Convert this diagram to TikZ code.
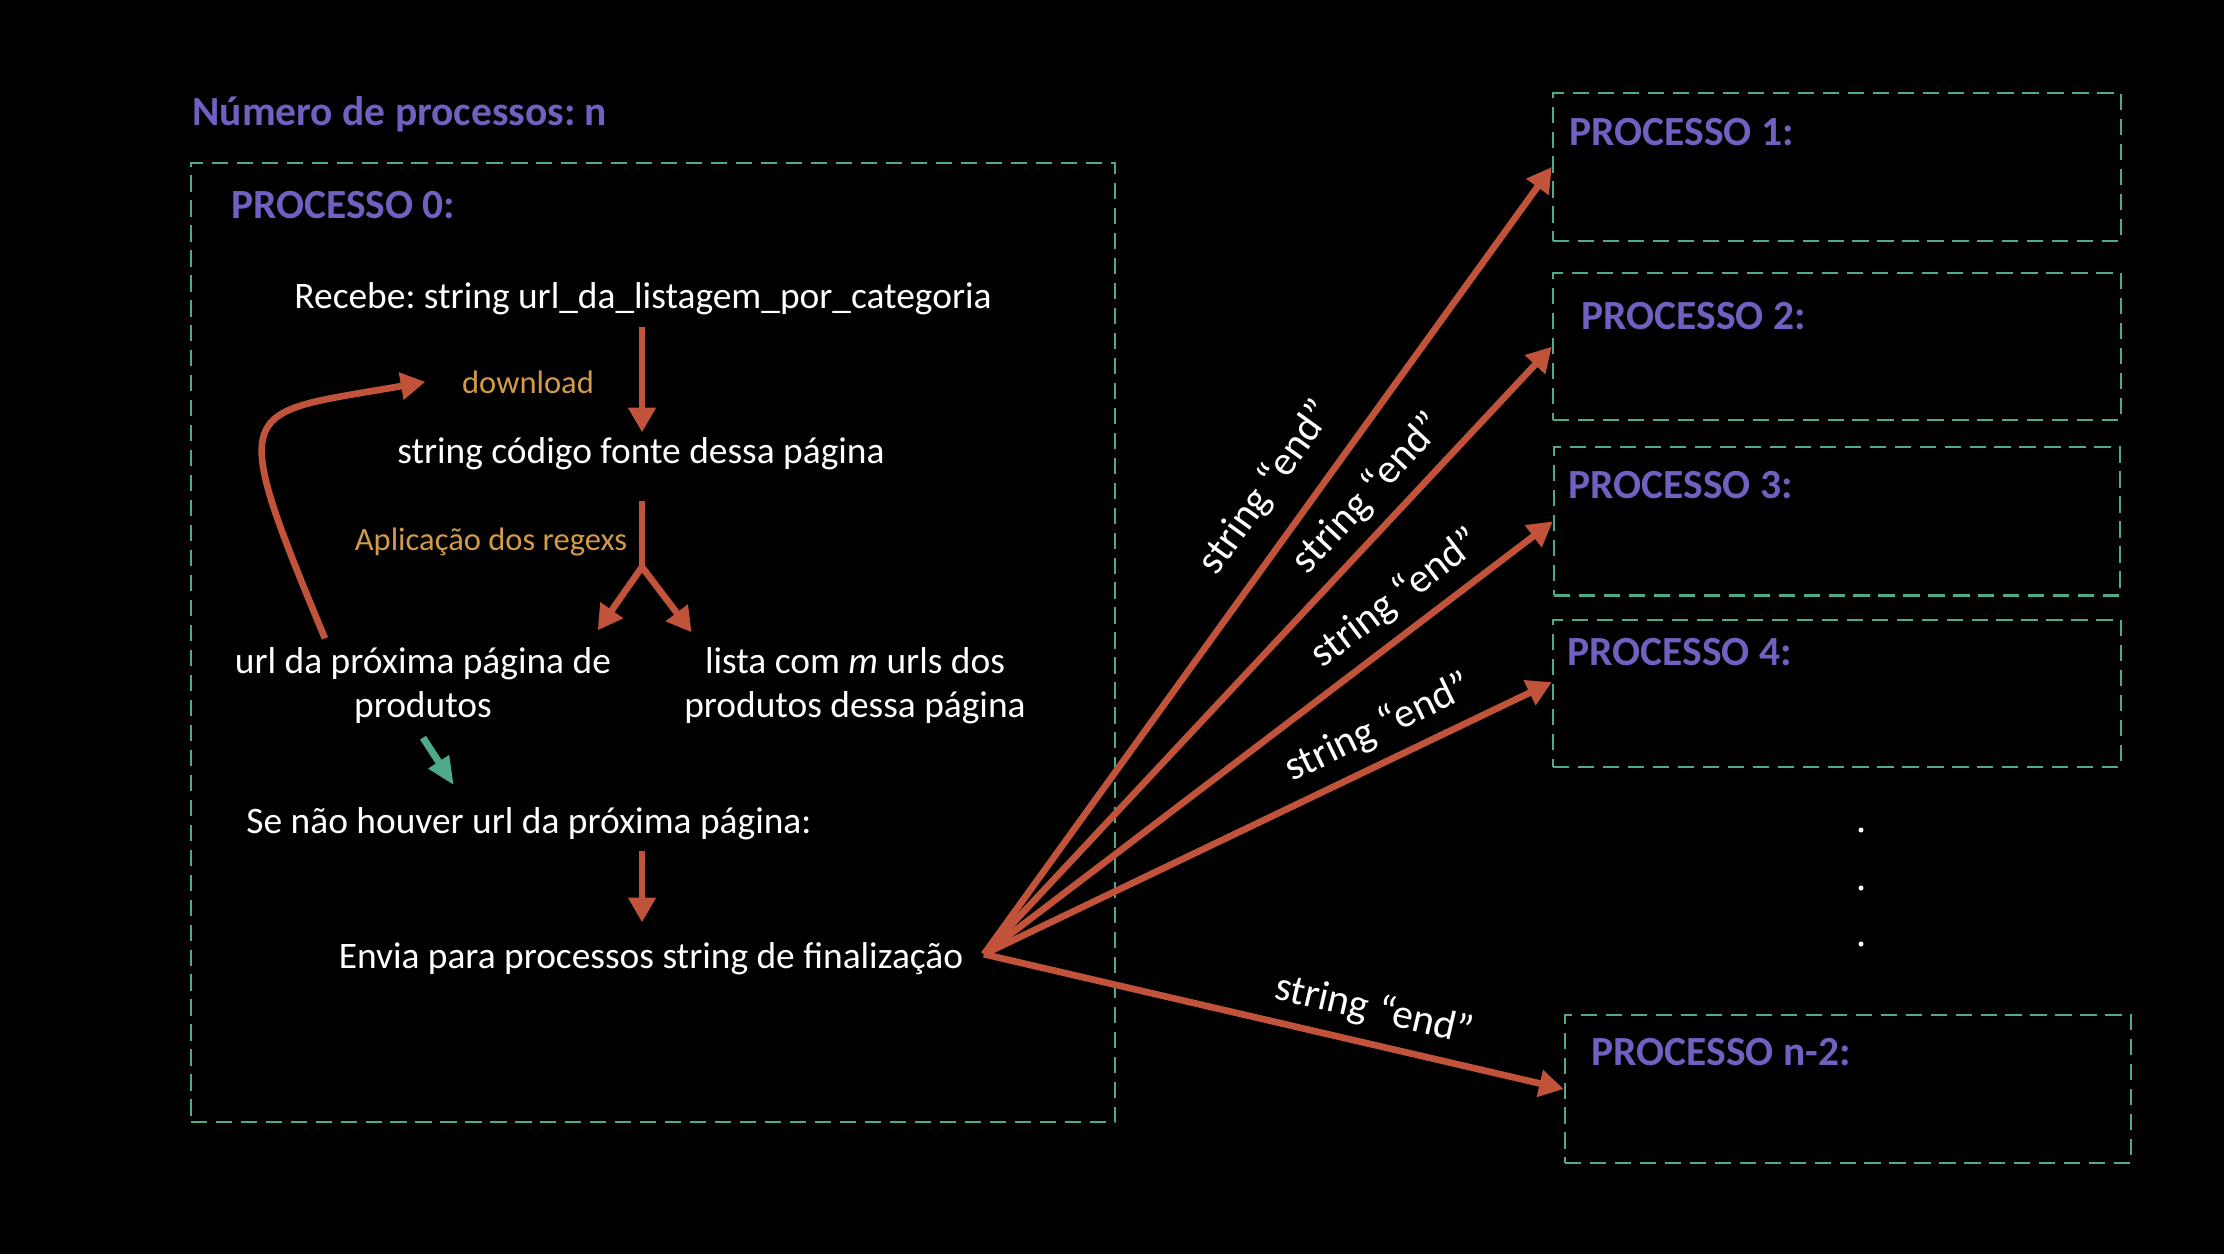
\documentclass[tikz,border=0pt]{standalone}
\usepackage{fontspec}
\setmainfont{Carlito}
\usetikzlibrary{positioning, calc, arrows.meta}
\frenchspacing
\definecolor{arrowred}{HTML}{C0533A}
\definecolor{boxgreen}{HTML}{4FAA8A}
\definecolor{titlepurple}{HTML}{7060C0}
\definecolor{noteorange}{HTML}{D39A47}
\tikzstyle{Arrow} = [
line width=1.9pt, arrowred,
-{Triangle[length=7pt, width=7.5pt]}]
\tikzstyle{GreenArrow} = [
line width=2pt, boxgreen,
-{Triangle[length=8pt, width=6.5pt]}]
\tikzstyle{ProcBox} = [
rectangle, draw=boxgreen, line width=0.6pt,
dash pattern=on 4.6pt off 2.5pt, inner sep=0pt]
\tikzstyle{Title} = [
font=\bfseries\fontsize{11.8}{14}\selectfont,
text=titlepurple, inner sep=0pt, anchor=base west]
\tikzstyle{Body} = [
font=\fontsize{10.64}{12.5}\selectfont,
text=white, inner sep=0pt, anchor=base, align=center]
\tikzstyle{Note} = [
font=\fontsize{9.25}{11}\selectfont,
text=noteorange, inner sep=0pt, anchor=base]
\tikzstyle{Msg} = [
font=\fontsize{11.8}{13}\selectfont,
text=white, sloped, above]

\begin{document}
\begin{tikzpicture}[x=0.01cm, y=-0.01cm]
    \fill [black] (0,0) rectangle (2224,1254);
    % processo 0
    \node [ProcBox, minimum width=9.24cm, minimum height=9.59cm] (p0) at (653,642.5) {};
    \node [Title] (nproc) at ([xshift=0.02cm, yshift=0.36cm]p0.north west) {Número de processos: n};
    \node [Title] (t0) at ([xshift=0.41cm, yshift=-0.57cm]p0.north west) {PROCESSO 0:};
    \node [Body] (recebe) at (643,308) {Recebe: string url\_da\_listagem\_por\_categoria};
    \node [Note] (download) at (528,393) {download};
    \node [Body] (codigo) at (641,463) {string código fonte dessa página};
    \node [Note] (regex) at (491,550) {Aplicação dos regexs};
    \coordinate (split) at (642,567);
    \node [Body] (url) at (423,717) {url da próxima página de\\produtos};
    \node [Body] (lista) at (855,717) {lista com \textit{m} urls dos\\produtos dessa página};
    \node [Body] (se) at (529,833) {Se não houver url da próxima página:};
    \node [Body] (envia) at (651,968) {Envia para processos string de finalização};
    \draw [Arrow, shorten <=0.12cm, shorten >=0.04cm] (recebe.south -| split) to (codigo.north -| split);
    \draw [arrowred, line width=1.9pt, shorten <=0.31cm] (codigo.south -| split) to (split);
    \draw [Arrow] (split) to ([xshift=-0.14cm, yshift=0.16cm]url.north east);
    \draw [Arrow] (split) to ([xshift=0.08cm, yshift=0.14cm]lista.north west);
    \draw [Arrow] ([xshift=-0.98cm, yshift=0.08cm]url.north)
        .. controls +(112.6:2.6cm) and +(190:1.9cm) .. ([xshift=-0.36cm]download.west);
    \draw [GreenArrow] ([yshift=-0.14cm]url.south) to ([xshift=-0.75cm, yshift=0.21cm]se.north);
    \draw [Arrow, shorten <=0.11cm, shorten >=0.19cm] (se.south -| split) to (envia.north -| split);
    % outros processos
    \node [ProcBox, minimum width=5.68cm, minimum height=1.48cm] (p1) at (1837,167) {};
    \node [ProcBox, minimum width=5.68cm, minimum height=1.47cm, below=0.3cm of p1] (p2) {};
    \node [ProcBox, minimum width=5.66cm, minimum height=1.48cm, below=0.25cm of p2] (p3) {};
    \node [ProcBox, minimum width=5.68cm, minimum height=1.47cm, below=0.22cm of p3] (p4) {};
    \node [ProcBox, minimum width=5.66cm, minimum height=1.48cm] (pn) at (1848,1089) {};
    \node [Title] (t1) at ([xshift=0.17cm, yshift=-0.54cm]p1.north west) {PROCESSO 1:};
    \node [Title] (t2) at ([xshift=0.29cm, yshift=-0.57cm]p2.north west) {PROCESSO 2:};
    \node [Title] (t3) at ([xshift=0.15cm, yshift=-0.52cm]p3.north west) {PROCESSO 3:};
    \node [Title] (t4) at ([xshift=0.15cm, yshift=-0.47cm]p4.north west) {PROCESSO 4:};
    \node [Title] (tn) at ([xshift=0.27cm, yshift=-0.52cm]pn.north west) {PROCESSO n-2:};
    \fill [white] (1861,830) circle (0.025cm);
    \fill [white] (1861,888) circle (0.025cm);
    \fill [white] (1861,944) circle (0.025cm);
    % mensagens de finalizacao
    \coordinate (fan) at ([xshift=0.2cm, yshift=0.04cm]envia.east);
    \draw [Arrow] (fan) to node [Msg, pos=0.56, yshift=0.1cm] {string “end”} (p1.west);
    \draw [Arrow] (fan) to node [Msg, pos=0.72] {string “end”} (p2.west);
    \draw [Arrow] (fan) to node [Msg, pos=0.76] {string “end”} (p3.west);
    \draw [Arrow] (fan) to node [Msg, pos=0.72] {string “end”} ([yshift=0.11cm]p4.west);
    \draw [Arrow] (fan) to node [Msg, pos=0.66] {string “end”} (pn.west);
\end{tikzpicture}
\end{document}
